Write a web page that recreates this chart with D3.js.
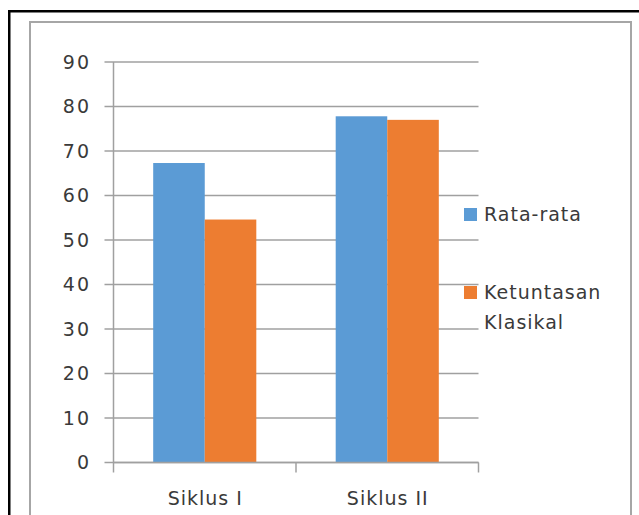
<!DOCTYPE html>
<html><head><meta charset="utf-8">
<script src="https://cdn.jsdelivr.net/npm/d3@7"></script>
<style>
html,body{margin:0;padding:0;background:#fff;}
svg{display:block;}
text{font-family:"DejaVu Sans",sans-serif;font-size:19px;fill:#3a3a3a;letter-spacing:1px;}
</style></head>
<body>
<svg id="c" width="639" height="515"></svg>
<script>
const categories = ["Siklus I", "Siklus II"];
const seriesNames = ["Rata-rata", "Ketuntasan Klasikal"];
const rataRata = [67.3, 77.8];
const ketuntasan = [54.6, 77.0];
const yTicks = [0, 10, 20, 30, 40, 50, 60, 70, 80, 90];
const colors = ["#5B9BD5", "#ED7D31"];

(function () {
const values = [rataRata, ketuntasan];
const svg = d3.select("#c");

// frames
svg.append("rect").attr("x", 9.25).attr("y", 11.25).attr("width", 700).attr("height", 600)
  .attr("fill", "none").attr("stroke", "#000").attr("stroke-width", 2.5);
svg.append("rect").attr("x", 30).attr("y", 22).attr("width", 601).attr("height", 600)
  .attr("fill", "#fff").attr("stroke", "#a6a6a6").attr("stroke-width", 2);

const pLeft = 113.5, pRight = 478.5, pTop = 62, pBottom = 462.5;
const y = d3.scaleLinear().domain([0, 90]).range([pBottom, pTop]);
const x = d3.scaleBand().domain(categories).range([pLeft, pRight]).paddingInner(0).paddingOuter(0);
const xs = d3.scaleBand().domain(seriesNames).range([0, x.bandwidth()]).paddingInner(0).paddingOuter(0.77);

// gridlines
svg.append("g").selectAll("line").data(yTicks).join("line")
  .attr("x1", pLeft - 9).attr("x2", pRight)
  .attr("y1", d => y(d)).attr("y2", d => y(d))
  .attr("stroke", "#a0a0a0").attr("stroke-width", 1.5);

// y labels
svg.append("g").selectAll("text").data(yTicks).join("text")
  .attr("x", 91).attr("y", d => y(d)).attr("dy", "0.36em")
  .attr("text-anchor", "end").style("letter-spacing", "2px").text(d => d);

// bars
seriesNames.forEach((s, si) => {
  svg.append("g").selectAll("rect").data(categories).join("rect")
    .attr("x", c => x(c) + xs(s))
    .attr("width", xs.bandwidth())
    .attr("y", (c, i) => y(values[si][i]))
    .attr("height", (c, i) => y(0) - y(values[si][i]))
    .attr("fill", colors[si]);
});

// y axis line
svg.append("line").attr("x1", pLeft).attr("x2", pLeft).attr("y1", pTop).attr("y2", pBottom)
  .attr("stroke", "#a0a0a0").attr("stroke-width", 1.5);
// x axis line
svg.append("line").attr("x1", pLeft).attr("x2", pRight).attr("y1", pBottom).attr("y2", pBottom)
  .attr("stroke", "#a0a0a0").attr("stroke-width", 1.5);
// x ticks at band boundaries
const bounds = categories.map(c => x(c)).concat([x(categories[categories.length - 1]) + x.bandwidth()]);
svg.append("g").selectAll("line").data(bounds).join("line")
  .attr("x1", d => d).attr("x2", d => d).attr("y1", pBottom).attr("y2", pBottom + 10)
  .attr("stroke", "#a0a0a0").attr("stroke-width", 1.5);

// category labels
svg.append("g").selectAll("text").data(categories).join("text")
  .attr("x", c => x(c) + x.bandwidth() / 2 + 0.5).attr("y", 505)
  .attr("text-anchor", "middle").text(c => c);

// legend
const legendItems = [
  {name: seriesNames[0], lines: ["Rata-rata"], y: 208},
  {name: seriesNames[1], lines: ["Ketuntasan", "Klasikal"], y: 286}
];
legendItems.forEach((it, i) => {
  svg.append("rect").attr("x", 464).attr("y", it.y).attr("width", 13).attr("height", 13).attr("fill", colors[i]);
  it.lines.forEach((ln, j) => {
    svg.append("text").attr("x", 484).attr("y", it.y + 13 + j * 30).text(ln);
  });
});
})();
</script>
</body></html>
